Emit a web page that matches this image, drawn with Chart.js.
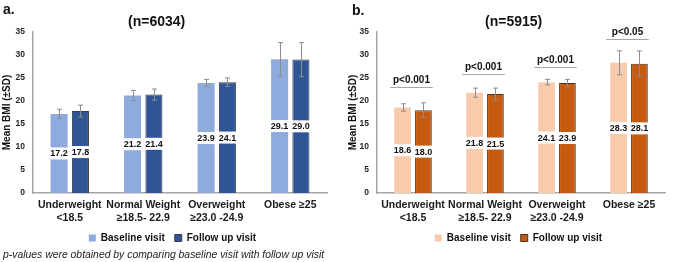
<!DOCTYPE html>
<html>
<head>
<meta charset="utf-8">
<script src="https://cdn.jsdelivr.net/npm/chart.js@4.4.1/dist/chart.umd.min.js"></script>
<style>
  body { margin: 0; background: #fff; font-family: "Liberation Sans", Arial, sans-serif; }
  #wrap { position: relative; width: 675px; height: 262px; overflow: hidden; }
  canvas { position: absolute; top: 0; }
  .lbl { position: absolute; font-weight: bold; color: #111; white-space: nowrap; }
</style>
</head>
<body>
<div id="wrap">
  <canvas id="chartA" width="337" height="262" style="left:0px;width:337px;height:262px"></canvas>
  <canvas id="chartB" width="338" height="262" style="left:337px;width:338px;height:262px"></canvas>
  <div class="lbl" style="left:3px;top:1px;font-size:14px">a.</div>
  <div class="lbl" style="left:352px;top:2px;font-size:14px">b.</div>
  <div class="lbl" style="left:128px;top:13px;font-size:14px">(n=6034)</div>
  <div class="lbl" style="left:485px;top:13px;font-size:14px">(n=5915)</div>
  <div style="position:absolute;left:3px;top:249px;font-size:10.4px;font-style:italic;color:#222;white-space:nowrap">p-values were obtained by comparing baseline visit with follow up visit</div>
</div>
<script>
const categories = [["Underweight", "<18.5"], ["Normal Weight", "\u226518.5- 22.9"], ["Overweight", "\u226523.0 -24.9"], ["Obese \u226525"]]

// panel a (n=6034)
const baselineA = [17.2, 21.2, 23.9, 29.1]
const followA = [17.8, 21.4, 24.1, 29.0]
const baselineSdA = [1.0, 1.1, 0.8, 3.6]
const followSdA = [1.3, 1.2, 0.9, 3.7]

// panel b (n=5915)
const baselineB = [18.6, 21.8, 24.1, 28.3]
const followB = [18.0, 21.5, 23.9, 28.1]
const baselineSdB = [0.8, 1.0, 0.6, 2.6]
const followSdB = [1.6, 1.3, 0.8, 2.8]
const pLabelsB = ["p<0.001", "p<0.001", "p<0.001", "p<0.05"]
const pLevelsB = [23.1, 25.9, 27.3, 33.5]

const yTicks = [0, 5, 10, 15, 20, 25, 30, 35]

// error bars drawn from the sd arrays
const errorBars = {
  id: 'errorBars',
  afterDatasetsDraw(chart) {
    const ctx = chart.ctx
    const y = chart.scales.y
    ctx.save()
    ctx.strokeStyle = '#8c8c8c'
    ctx.lineWidth = 1
    chart.data.datasets.forEach((ds, i) => {
      const meta = chart.getDatasetMeta(i)
      meta.data.forEach((bar, j) => {
        const v = ds.data[j], sd = ds.sd[j]
        const x = Math.round(bar.x) + 0.5
        const top = y.getPixelForValue(v + sd)
        const bot = y.getPixelForValue(v - sd)
        ctx.beginPath()
        ctx.moveTo(x, top); ctx.lineTo(x, bot)
        ctx.moveTo(x - 2.5, top); ctx.lineTo(x + 2.5, top)
        ctx.moveTo(x - 2.5, bot); ctx.lineTo(x + 2.5, bot)
        ctx.stroke()
      })
    })
    ctx.restore()
  }
}

// value labels in a white box at the middle of each bar
const valueLabels = {
  id: 'valueLabels',
  afterDatasetsDraw(chart) {
    const ctx = chart.ctx
    ctx.save()
    ctx.font = 'bold 9px "Liberation Sans", Arial, sans-serif'
    ctx.textAlign = 'center'
    ctx.textBaseline = 'middle'
    chart.data.datasets.forEach((ds, i) => {
      const meta = chart.getDatasetMeta(i)
      meta.data.forEach((bar, j) => {
        const mid = (bar.y + bar.base) / 2
        ctx.fillStyle = '#fff'
        ctx.fillRect(bar.x - bar.width / 2 - 2, mid - 6, bar.width + 4, 12)
        ctx.fillStyle = '#111'
        ctx.fillText(ds.data[j].toFixed(1), bar.x, mid + 0.5)
      })
    })
    ctx.restore()
  }
}

// p-value brackets above the groups
const pBrackets = {
  id: 'pBrackets',
  afterDatasetsDraw(chart, args, opts) {
    if (!opts.labels) return
    const ctx = chart.ctx
    const y = chart.scales.y
    const m0 = chart.getDatasetMeta(0), m1 = chart.getDatasetMeta(1)
    ctx.save()
    ctx.font = 'bold 10px "Liberation Sans", Arial, sans-serif'
    ctx.textAlign = 'center'
    ctx.textBaseline = 'alphabetic'
    opts.labels.forEach((txt, j) => {
      const b0 = m0.data[j], b1 = m1.data[j]
      const x0 = b0.x - b0.width / 2 - 4
      const x1 = b1.x + b1.width / 2 + 1
      const ly = Math.round(y.getPixelForValue(opts.levels[j])) + 0.5
      ctx.strokeStyle = '#a6a6a6'
      ctx.lineWidth = 1
      ctx.beginPath(); ctx.moveTo(x0, ly); ctx.lineTo(x1, ly); ctx.stroke()
      ctx.fillStyle = '#111'
      ctx.fillText(txt, (x0 + x1) / 2, ly - 5)
    })
    ctx.restore()
  }
}

// nudge the bottom legend sideways
const legendShift = {
  id: 'legendShift',
  afterLayout(chart, args, opts) {
    const lg = chart.legend
    if (!lg || !opts.dx) return
    lg.left += opts.dx
    lg.right += opts.dx
  }
}

function makeChart(id, base, follow, baseSd, followSd, colors, yWidth, titlePad, dx, brackets) {
  const ctx = document.getElementById(id).getContext('2d')
  return new Chart(ctx, {
    type: 'bar',
    data: {
      labels: categories,
      datasets: [
        { label: 'Baseline visit', data: base, sd: baseSd, backgroundColor: colors[0], borderColor: colors[0], borderWidth: 0 },
        { label: 'Follow up visit', data: follow, sd: followSd, backgroundColor: colors[1], borderColor: colors[2], borderWidth: 1 }
      ]
    },
    options: {
      responsive: false,
      animation: false,
      categoryPercentage: 0.58,
      barPercentage: 0.8,
      layout: { padding: { left: 0, right: 10, top: 32, bottom: 9 } },
      scales: {
        x: {
          grid: { display: false, drawTicks: false },
          border: { display: true, color: '#a6a6a6', width: 1.5 },
          ticks: { color: '#1a1a1a', padding: 6, maxRotation: 0, minRotation: 0, autoSkip: false,
            font: { size: 10.5, weight: 'bold', family: '"Liberation Sans", Arial' } },
          afterFit: (s) => { s.height = 30 }
        },
        y: {
          min: 0, max: 35,
          afterBuildTicks: (s) => { s.ticks = yTicks.map(v => ({ value: v })) },
          grid: { display: false, drawTicks: false },
          border: { display: true, color: '#a6a6a6', width: 1.5 },
          ticks: { color: '#262626', padding: 8, font: { size: 8.5, weight: 'bold', family: '"Liberation Sans", Arial' } },
          title: { display: true, text: 'Mean BMI (\u00b1SD)', color: '#111', padding: { top: titlePad, bottom: 0 }, font: { size: 10, weight: 'bold', family: '"Liberation Sans", Arial' } },
          afterFit: (s) => { s.width = yWidth }
        }
      },
      plugins: {
        legend: {
          position: 'bottom',
          labels: {
            boxWidth: 7, boxHeight: 7, padding: 10, color: '#111',
            font: { size: 10, weight: 'bold', family: '"Liberation Sans", Arial' }
          }
        },
        tooltip: { enabled: false },
        legendShift: { dx: dx },
        pBrackets: brackets
      }
    },
    plugins: [errorBars, valueLabels, pBrackets, legendShift]
  })
}

makeChart('chartA', baselineA, followA, baselineSdA, followSdA,
  ['#8faadc', '#2f5597', '#3a3a4a'], 33, 1.5, 9, {})
makeChart('chartB', baselineB, followB, baselineSdB, followSdB,
  ['#f8cbad', '#c55a11', '#4a3020'], 40, 10, 17.5, { labels: pLabelsB, levels: pLevelsB })
</script>
</body>
</html>
